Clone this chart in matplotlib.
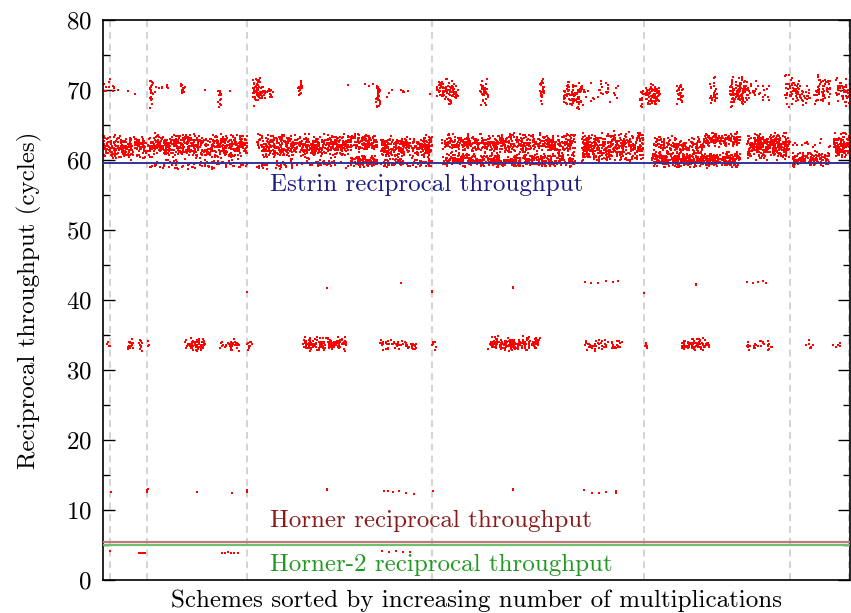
import numpy as np
import matplotlib
matplotlib.use("Agg")
import matplotlib.pyplot as plt

plt.rcParams['font.family'] = ['cmr10', 'DejaVu Serif']
plt.rcParams['axes.formatter.use_mathtext'] = True

# ---- reference lines (cycles) ----
estrin_level = 59.6
horner_level = 5.45
horner2_level = 5.0

# scheme-group boundaries (x positions of dashed separators)
group_bounds = [7, 44, 144, 329, 541, 687, 746]
x_max = 747

# ---- dense clouds: x0, x1, y0, y1, count ----
band60_x0 = [0, 45, 45, 154, 154, 247, 247, 278, 278, 339, 339, 479, 549, 549, 602, 644, 689, 689, 730]
band60_x1 = [44, 144, 144, 247, 247, 274, 274, 329, 329, 472, 472, 541, 637, 602, 637, 687, 727, 727, 747]
band60_y0 = [59.9, 60.1, 58.5, 60.1, 58.6, 61.0, 58.8, 60.1, 58.8, 60.8, 58.9, 59.5, 58.9, 60.8, 61.8, 59.9, 58.9, 61.2, 60.1]
band60_y1 = [63.7, 63.9, 60.3, 63.9, 60.3, 63.9, 60.7, 63.7, 60.3, 63.9, 61.0, 64.1, 61.2, 63.5, 64.0, 64.1, 61.3, 63.5, 64.1]
band60_n = [240, 560, 90, 500, 70, 140, 110, 280, 80, 540, 470, 410, 470, 170, 140, 330, 150, 15, 110]

band70_x0 = [0, 47, 50, 78, 115, 150, 159, 195, 273, 282, 334, 377, 437, 460, 480, 537, 542, 574, 607, 627, 644, 682, 697, 712, 732]
band70_x1 = [12, 50, 67, 82, 119, 159, 170, 199, 277, 307, 355, 385, 441, 480, 517, 540, 557, 580, 614, 644, 667, 697, 712, 727, 748]
band70_y0 = [68.5, 67.4, 69.0, 69.3, 67.4, 67.6, 67.9, 69.0, 66.7, 68.5, 67.9, 67.6, 67.6, 67.1, 68.0, 67.0, 67.6, 67.4, 67.6, 67.4, 68.0, 67.1, 67.5, 67.7, 67.5]
band70_y1 = [72.0, 72.1, 71.0, 71.0, 70.7, 72.0, 71.4, 71.4, 71.1, 70.5, 71.7, 72.0, 71.7, 71.7, 71.5, 71.0, 71.1, 71.0, 72.0, 72.0, 71.5, 72.4, 71.0, 72.5, 72.3]
band70_n = [12, 25, 8, 12, 15, 60, 20, 15, 30, 8, 90, 35, 25, 90, 30, 15, 80, 30, 30, 100, 30, 60, 25, 60, 50]

band33_x0 = [4, 25, 36, 43, 82, 117, 144, 200, 277, 329, 385, 482, 540, 579, 644, 702, 729]
band33_x1 = [7, 30, 39, 46, 102, 137, 149, 244, 313, 334, 437, 519, 544, 607, 669, 710, 737]
band33_y0 = [32.9, 32.6, 32.6, 32.8, 32.6, 32.6, 32.6, 32.6, 32.6, 32.8, 32.6, 32.6, 32.8, 32.6, 32.7, 32.8, 32.9]
band33_y1 = [34.3, 34.6, 34.5, 34.3, 34.7, 34.4, 34.7, 34.8, 34.4, 34.6, 34.9, 34.5, 34.4, 34.7, 34.4, 34.6, 34.3]
band33_n = [4, 15, 10, 4, 60, 35, 10, 150, 55, 8, 170, 55, 6, 80, 30, 8, 6]

# ---- isolated measurements ----
single_x = [15, 25, 32, 102, 127, 245, 262, 266, 270, 327,
            144, 224, 298, 329, 329, 410, 410, 482, 488, 495, 503, 510, 515, 541, 593, 593, 644, 650, 655, 660, 663,
            8, 44, 44, 45, 94, 129, 144, 144, 224, 224, 281, 285, 290, 296, 303, 311, 330, 410, 410, 481, 489, 496, 503, 513, 513,
            7, 36, 38, 40, 42, 119, 122, 125, 128, 131, 135, 279, 286, 293, 300, 307]
single_y = [70.0, 69.8, 69.5, 70.0, 69.8, 70.7, 70.8, 70.6, 70.9, 69.5,
            41.1, 41.7, 42.4, 41.1, 41.3, 41.7, 41.9, 42.6, 42.4, 42.5, 42.7, 42.6, 42.7, 41.0, 42.1, 42.3, 42.6, 42.5, 42.6, 42.7, 42.5,
            12.6, 12.9, 12.6, 13.0, 12.6, 12.4, 12.9, 12.6, 13.0, 12.8, 12.7, 12.7, 12.6, 12.7, 12.5, 12.3, 12.7, 13.0, 12.8, 12.8, 12.4, 12.5, 12.6, 12.4, 12.7,
            4.1, 3.8, 3.8, 3.85, 3.8, 3.9, 3.9, 3.95, 3.9, 3.9, 3.9, 4.1, 4.0, 4.1, 4.0, 4.0]


def _frac_hash(i, salt):
    return np.abs(np.sin(i * 12.9898 + salt * 78.233) * 43758.5453) % 1.0


def spread(x0s, x1s, y0s, y1s, ns, start):
    """Place each cloud's measurements inside its read-off extent."""
    xs, ys = [], []
    k = start
    for x0, x1, y0, y1, n in zip(x0s, x1s, y0s, y1s, ns):
        i = np.arange(n, dtype=float) + k
        u = _frac_hash(i, 1.0)
        v = (_frac_hash(i, 2.0) + _frac_hash(i, 3.0)) / 2.0
        xs.append(x0 + (x1 - x0) * u)
        ys.append(y0 + (y1 - y0) * v)
        k += n + 17
    return np.concatenate(xs), np.concatenate(ys)


FS = 18
MS = 4.2

fig = plt.figure(figsize=(8.51, 6.13), dpi=100)
ax = fig.add_axes([103 / 851, 33 / 613, 747 / 851, 560 / 613])

for gx in group_bounds:
    ax.axvline(gx, color='#c8c8c8', lw=1.1, ls=(0, (4.5, 3.2)), zorder=1)

for args in [(band60_x0, band60_x1, band60_y0, band60_y1, band60_n, 0),
             (band70_x0, band70_x1, band70_y0, band70_y1, band70_n, 50000),
             (band33_x0, band33_x1, band33_y0, band33_y1, band33_n, 90000)]:
    px, py = spread(*args)
    ax.scatter(px, py, s=MS, marker='s', color='#ff0000', linewidths=0, zorder=2)
ax.scatter(single_x, single_y, s=MS, marker='s', color='#ff0000', linewidths=0, zorder=2)

ax.axhline(estrin_level, color='#34349a', lw=1.4, zorder=3)
ax.axhline(horner_level, color='#c07878', lw=1.6, zorder=3)
ax.axhline(horner2_level, color='#6cc06c', lw=1.6, zorder=3)

ax.text(167, 56.4, 'Estrin reciprocal throughput', color='#1c1c88', fontsize=FS,
        ha='left', va='center')
ax.text(167, 8.4, 'Horner reciprocal throughput', color='#8b1a1a', fontsize=FS,
        ha='left', va='center')
ax.text(167, 2.1, 'Horner-2 reciprocal throughput', color='#229922', fontsize=FS,
        ha='left', va='center')

ax.set_xlim(0, x_max)
ax.set_ylim(0, 80)
ax.set_yticks(np.arange(0, 81, 10))
ax.set_yticks(np.arange(0, 81, 5), minor=True)
ax.set_xticks([])
ax.tick_params(axis='y', which='major', direction='in', length=8.5, width=1.0,
               right=True, labelsize=FS, pad=8)
ax.tick_params(axis='y', which='minor', direction='in', length=5, width=1.0, right=True)
for sp in ax.spines.values():
    sp.set_linewidth(1.2)

ax.set_xlabel('Schemes sorted by increasing number of multiplications', fontsize=FS, labelpad=7)
ax.set_ylabel('Reciprocal throughput (cycles)', fontsize=FS, labelpad=17)

fig.savefig('out.png', dpi=100)
